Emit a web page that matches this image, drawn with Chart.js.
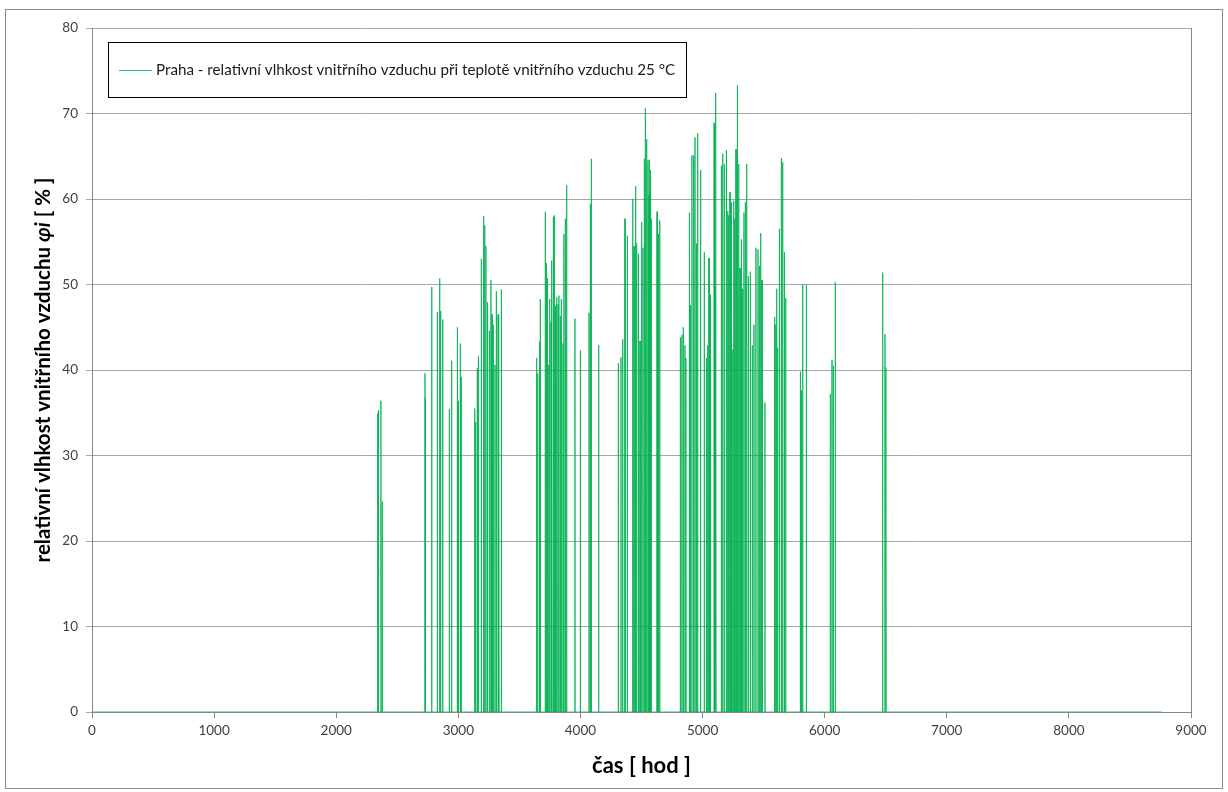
<!DOCTYPE html>
<html>
<head>
<meta charset="utf-8">
<script src="https://cdn.jsdelivr.net/npm/chart.js@4.4.1/dist/chart.umd.min.js"></script>
<style>
  html, body { margin: 0; padding: 0; background: #fff; }
  canvas { display: block; }
</style>
</head>
<body>
<canvas id="chart" width="1228" height="792"></canvas>
<script>
// hours (from 1 Jan) at which the indoor humidity rises above zero
const spikeHours = [
  2339, 2345, 2366, 2377,
  2727, 2730, 2782, 2828, 2847, 2855, 2872, 2926, 2945, 2992, 3000, 3016, 3024,
  3134, 3142, 3155, 3164, 3188, 3207, 3216, 3226, 3237, 3241, 3254, 3267, 3271, 3276, 3286, 3300, 3311, 3325, 3333, 3352,
  3641, 3650, 3663, 3667, 3671, 3712, 3721, 3729, 3740, 3748, 3759, 3767, 3778, 3786, 3794, 3797, 3805, 3816, 3824, 3835, 3843, 3857, 3865, 3876, 3887,
  3955, 3999, 4070, 4081, 4089, 4149,
  4310, 4332, 4346, 4365, 4384, 4428, 4439, 4452, 4460, 4474, 4488, 4501, 4512, 4523, 4531, 4542, 4553, 4561, 4564, 4572, 4575, 4580, 4627, 4630, 4638, 4649,
  4818, 4831, 4842, 4856, 4864, 4892, 4900, 4913, 4927, 4938, 4949, 4960, 4984, 5014, 5033, 5042, 5053, 5064, 5094, 5102, 5110,
  5154, 5165, 5178, 5195, 5206, 5214, 5225, 5236, 5247, 5255, 5263, 5274, 5285, 5296, 5307, 5318, 5328, 5339, 5350, 5361, 5375, 5391, 5407, 5421, 5437, 5454, 5465, 5476, 5487, 5511,
  5590, 5599, 5607, 5615, 5629, 5645, 5656, 5670, 5681,
  5801, 5809, 5820, 5850,
  6046, 6060, 6071, 6087,
  6475, 6494, 6502
];
// relative humidity at those hours [%]
const spikeValues = [
  34.9, 35.3, 36.4, 24.6,
  39.6, 36.7, 49.7, 46.8, 50.7, 46.9, 45.9, 35.4, 41.1, 45.0, 36.4, 43.1, 39.2,
  35.5, 33.9, 40.2, 41.6, 53.0, 58.0, 56.9, 54.5, 47.9, 45.9, 44.6, 50.5, 40.1, 46.5, 45.3, 40.6, 49.2, 46.5, 45.3, 49.4,
  41.4, 39.6, 43.3, 41.2, 48.3, 58.5, 52.5, 50.7, 40.6, 48.3, 45.6, 52.8, 57.9, 58.1, 47.5, 39.6, 48.5, 47.7, 48.7, 46.3, 48.3, 43.1, 55.9, 57.7, 61.6,
  46.0, 42.3, 46.7, 59.4, 64.7, 42.9,
  40.8, 41.5, 43.6, 57.7, 55.7, 60.0, 54.5, 61.5, 54.8, 53.6, 43.4, 57.3, 54.3, 64.7, 70.6, 67.0, 64.5, 60.4, 64.6, 63.3, 63.4, 57.7, 58.4, 58.6, 55.9, 57.5,
  43.8, 44.1, 45.0, 42.9, 41.4, 58.4, 47.6, 65.1, 65.1, 67.2, 54.8, 67.7, 63.4, 53.8, 41.4, 42.9, 53.1, 48.8, 68.9, 49.8, 72.4,
  63.9, 65.3, 64.1, 65.7, 58.6, 58.1, 60.8, 59.6, 42.4, 59.8, 57.7, 65.8, 73.3, 64.1, 51.9, 55.3, 49.5, 58.4, 59.6, 64.1, 51.0, 51.5, 42.9, 45.3, 54.3, 54.1, 52.2, 56.0, 50.5, 36.2,
  46.2, 45.3, 49.5, 42.6, 56.5, 64.8, 64.3, 53.8, 48.4,
  39.8, 37.6, 50.0, 50.0,
  37.2, 41.2, 40.5, 50.3,
  51.4, 44.2, 40.3
];
const lastHour = 8760;
const xTicks = [0, 1000, 2000, 3000, 4000, 5000, 6000, 7000, 8000, 9000];
const yTicks = [0, 10, 20, 30, 40, 50, 60, 70, 80];

const seriesLabel = 'Praha - relativní vlhkost vnitřního vzduchu při teplotě vnitřního vzduchu 25 °C';
const FONT = 'Lato, "Open Sans", sans-serif';

// zero baseline with a one-hour spike at every listed hour
const points = [{ x: 0, y: 0 }];
spikeHours.forEach((h, i) => {
  points.push({ x: h - 1, y: 0 }, { x: h, y: spikeValues[i] }, { x: h + 1, y: 0 });
});
points.push({ x: lastHour, y: 0 });

const frame = {
  id: 'frame',
  beforeDraw(chart) {
    const ctx = chart.ctx;
    ctx.save();
    ctx.fillStyle = '#fff';
    ctx.fillRect(0, 0, chart.width, chart.height);
    ctx.strokeStyle = '#8c8c8c';
    ctx.lineWidth = 1;
    ctx.strokeRect(5.5, 9.5, 1217, 779);
    ctx.restore();
  },
  afterDraw(chart) {
    const ctx = chart.ctx;
    const a = chart.chartArea;
    ctx.save();
    // right edge of the plot area
    ctx.strokeStyle = '#868686';
    ctx.lineWidth = 1;
    ctx.beginPath();
    ctx.moveTo(Math.round(a.right) + 0.5, a.top);
    ctx.lineTo(Math.round(a.right) + 0.5, a.bottom);
    ctx.stroke();

    // legend box
    ctx.fillStyle = '#fff';
    ctx.fillRect(108.5, 42.5, 578, 55);
    ctx.strokeStyle = '#000';
    ctx.strokeRect(108.5, 42.5, 578, 55);
    const ds = chart.data.datasets[0];
    ctx.strokeStyle = ds.borderColor;
    ctx.beginPath();
    ctx.moveTo(119, 70.5);
    ctx.lineTo(152, 70.5);
    ctx.stroke();
    ctx.fillStyle = '#1a1a1a';
    ctx.font = '15.2px ' + FONT;
    ctx.textBaseline = 'middle';
    ctx.textAlign = 'left';
    ctx.fillText(ds.label, 156, 70);

    // axis titles
    ctx.fillStyle = '#000';
    ctx.textAlign = 'center';
    ctx.font = 'bold 22px ' + FONT;
    ctx.fillText('čas [ hod ]', (a.left + a.right) / 2, 766);

    const parts = [
      ['relativní vlhkost vnitřního vzduchu ', 'bold 20.5px ' + FONT],
      ['φi', 'italic bold 20.5px ' + FONT],
      [' [ % ]', 'bold 20.5px ' + FONT]
    ];
    let total = 0;
    parts.forEach(p => { ctx.font = p[1]; total += ctx.measureText(p[0]).width; });
    ctx.translate(43, (a.top + a.bottom) / 2);
    ctx.rotate(-Math.PI / 2);
    ctx.textAlign = 'left';
    let x = -total / 2;
    parts.forEach(p => {
      ctx.font = p[1];
      ctx.fillText(p[0], x, 0);
      x += ctx.measureText(p[0]).width;
    });
    ctx.restore();
  }
};

new Chart(document.getElementById('chart'), {
  type: 'line',
  data: {
    datasets: [{
      label: seriesLabel,
      data: points,
      borderColor: 'rgba(0,176,80,0.8)',
      borderWidth: 1,
      pointRadius: 0,
      tension: 0,
      fill: false
    }]
  },
  options: {
    responsive: false,
    animation: false,
    devicePixelRatio: 1,
    layout: { padding: { top: 28, right: 37, left: 0, bottom: 0 } },
    plugins: {
      legend: { display: false },
      tooltip: { enabled: false }
    },
    scales: {
      x: {
        type: 'linear',
        min: 0,
        max: 9000,
        afterBuildTicks: s => { s.ticks = xTicks.map(v => ({ value: v })); },
        afterFit: s => { s.height = 80; },
        ticks: {
          color: '#404040',
          font: { family: FONT, size: 13.5 },
          padding: 5,
          maxRotation: 0,
          callback: v => String(v)
        },
        grid: { drawOnChartArea: false, drawTicks: true, tickLength: 6, color: '#868686' },
        border: { display: true, color: '#868686' }
      },
      y: {
        min: 0,
        max: 80,
        afterBuildTicks: s => { s.ticks = yTicks.map(v => ({ value: v })); },
        afterFit: s => { s.width = 92; },
        ticks: { color: '#404040', font: { family: FONT, size: 13.5 }, padding: 8 },
        grid: { color: '#a6a6a6', tickLength: 6 },
        border: { display: true, color: '#868686' }
      }
    }
  },
  plugins: [frame]
});
</script>
</body>
</html>
